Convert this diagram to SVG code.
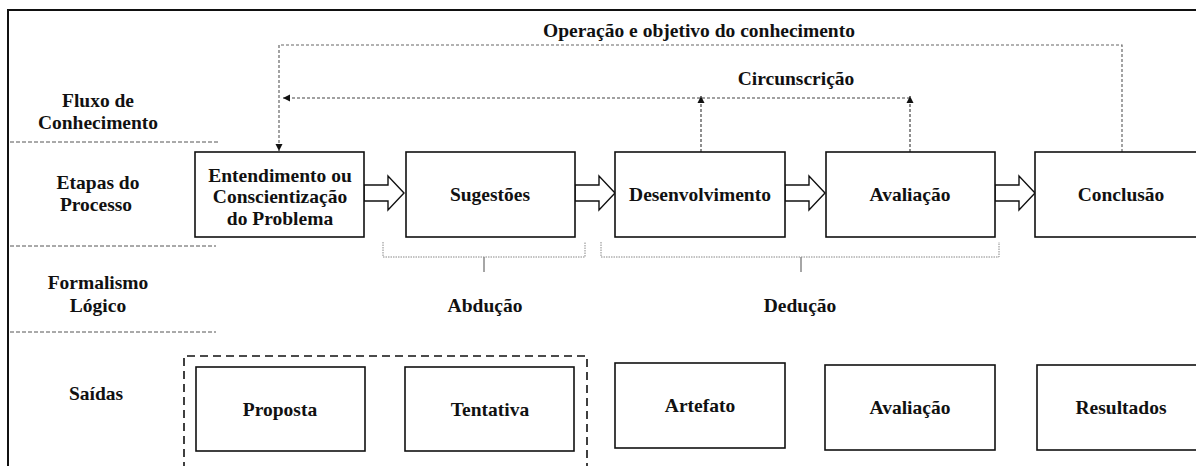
<svg xmlns="http://www.w3.org/2000/svg" width="1196" height="466" viewBox="0 0 1196 466">
<style>
text{font-family:"Liberation Serif","Times New Roman",serif;font-weight:bold;font-size:19.5px;fill:#111;text-anchor:middle}
.box{fill:#fff;stroke:#111;stroke-width:1.6}
.sep{fill:none;stroke:#555;stroke-width:1;stroke-dasharray:4 2}
.flow{fill:none;stroke:#666;stroke-width:1.2;stroke-dasharray:3 2}
.flow2{fill:none;stroke:#444;stroke-width:1.2;stroke-dasharray:3 2}
.brk{fill:none;stroke:#888;stroke-width:1;stroke-dasharray:1.5 1}
.tick{stroke:#888;stroke-width:1.5}
.blk{fill:#fff;stroke:#111;stroke-width:1.4;stroke-linejoin:miter}
.grp{fill:none;stroke:#111;stroke-width:1.6;stroke-dasharray:8 5}
</style>
<defs>
<marker id="ah" markerWidth="8" markerHeight="8" refX="7" refY="4" orient="auto" markerUnits="userSpaceOnUse">
<path d="M0,0.5 L7,4 L0,7.5 Z" fill="#111"/>
</marker>
<path id="barrow" d="M0,-8 L24,-8 L24,-17 L40,0 L24,17 L24,8 L0,8 Z"/>
</defs>
<rect width="1196" height="466" fill="#fff"/>
<!-- frame -->
<path d="M8,466 L8,10 L1196,10" fill="none" stroke="#111" stroke-width="2"/>

<!-- lane labels -->
<g id="lanes">
<text x="98" y="107">Fluxo de</text>
<text x="98" y="128.5">Conhecimento</text>
<line class="sep" x1="10" y1="142" x2="218" y2="142"/>
<text x="98" y="188.5">Etapas do</text>
<text x="96" y="211">Processo</text>
<line class="sep" x1="10" y1="246" x2="216" y2="246"/>
<text x="98" y="289">Formalismo</text>
<text x="98" y="312">Lógico</text>
<line class="sep" x1="10" y1="332" x2="216" y2="332"/>
<text x="96" y="400">Saídas</text>
</g>

<!-- connectors -->
<g id="connectors">
<path class="flow" d="M1122,152 L1122,45 L279,45 L279,151" marker-end="url(#ah)"/>
<path class="flow2" d="M910,98 L283,98" marker-end="url(#ah)"/>
<path class="flow2" d="M701,152 L701,96" marker-end="url(#ah)"/>
<path class="flow2" d="M910,152 L910,96" marker-end="url(#ah)"/>
<use href="#barrow" class="blk" x="364" y="193"/>
<use href="#barrow" class="blk" x="575" y="193"/>
<use href="#barrow" class="blk" x="785" y="193"/>
<use href="#barrow" class="blk" x="995" y="193"/>
</g>
<text x="699" y="37">Operação e objetivo do conhecimento</text>
<text x="796" y="85">Circunscrição</text>

<!-- process steps -->
<g id="n-entendimento">
<rect class="box" x="195" y="152" width="169" height="85"/>
<text x="280" y="181.5">Entendimento ou</text>
<text x="280" y="203">Conscientização</text>
<text x="280" y="224.5">do Problema</text>
</g>
<g id="n-sugestoes">
<rect class="box" x="406" y="152" width="169" height="85"/>
<text x="490" y="201">Sugestões</text>
</g>
<g id="n-desenvolvimento">
<rect class="box" x="615" y="152" width="170" height="85"/>
<text x="700" y="201">Desenvolvimento</text>
</g>
<g id="n-avaliacao">
<rect class="box" x="826" y="152" width="169" height="85"/>
<text x="910" y="201">Avaliação</text>
</g>
<g id="n-conclusao">
<rect class="box" x="1035" y="152" width="172" height="85"/>
<text x="1121" y="201">Conclusão</text>
</g>

<!-- logical formalism -->
<g id="n-abducao">
<path class="brk" d="M383,242 L383,257 L585,257 L585,242"/>
<line class="tick" x1="484" y1="257" x2="484" y2="272"/>
<text x="485" y="312">Abdução</text>
</g>
<g id="n-deducao">
<path class="brk" d="M601,242 L601,257 L999,257 L999,242"/>
<line class="tick" x1="801" y1="257" x2="801" y2="272"/>
<text x="800" y="312">Dedução</text>
</g>

<!-- outputs -->
<g id="n-grupo">
<path class="grp" d="M184,470 L184,356 L587,356 L587,470"/>
</g>
<g id="n-proposta">
<rect class="box" x="196" y="367" width="169" height="84"/>
<text x="280" y="416">Proposta</text>
</g>
<g id="n-tentativa">
<rect class="box" x="405" y="367" width="169" height="84"/>
<text x="490" y="416">Tentativa</text>
</g>
<g id="n-artefato">
<rect class="box" x="615" y="363" width="170" height="85"/>
<text x="700" y="412">Artefato</text>
</g>
<g id="n-avaliacao2">
<rect class="box" x="825" y="365" width="170" height="85"/>
<text x="910" y="414">Avaliação</text>
</g>
<g id="n-resultados">
<rect class="box" x="1037" y="365" width="172" height="85"/>
<text x="1121" y="414">Resultados</text>
</g>
</svg>
